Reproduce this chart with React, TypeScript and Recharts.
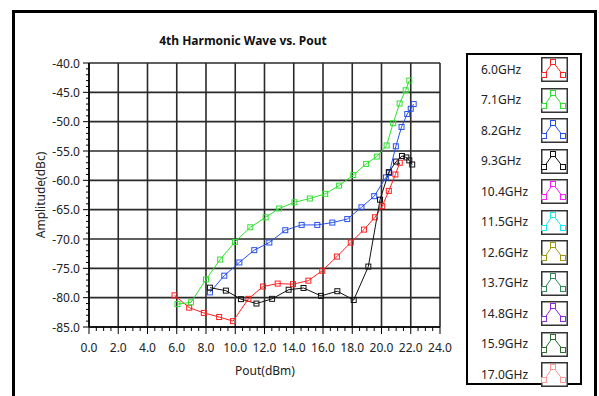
import { LineChart, Line, XAxis, YAxis, ReferenceLine } from "recharts"

const FONT = "'Noto Sans', 'Open Sans', sans-serif"

// Pout (dBm), amplitude (dBc)
const s6_0GHz = [
  [5.85, -79.6], [6.85, -81.7], [7.85, -82.6], [8.9, -83.3], [9.85, -84.0],
  [10.9, -80.2], [11.9, -78.1], [12.9, -77.6], [13.95, -77.7], [15.0, -77.1],
  [15.95, -75.4], [16.95, -73.0], [17.9, -70.6], [18.8, -68.4], [19.55, -66.3],
  [20.05, -64.4], [20.5, -61.8], [20.95, -59.0], [21.25, -57.0],
]
const s7_1GHz = [
  [6.05, -81.1], [6.97, -80.8], [8.0, -76.9], [8.97, -73.5], [9.98, -70.5],
  [11.03, -68.0], [12.08, -66.3], [13.0, -64.8], [14.05, -63.75], [15.1, -63.1],
  [16.15, -62.3], [17.1, -60.9], [18.07, -59.1], [18.95, -57.2], [19.68, -55.95],
  [20.35, -54.05], [20.8, -50.25], [21.24, -46.9], [21.65, -44.65], [21.9, -43.0],
]
const s8_2GHz = [
  [8.27, -79.1], [9.25, -76.25], [10.28, -74.0], [11.3, -71.9], [12.33, -70.6],
  [13.42, -68.5], [14.54, -67.6], [15.61, -67.6], [16.64, -67.2], [17.66, -66.6],
  [18.63, -64.6], [19.5, -62.7], [20.3, -59.5], [20.53, -58.75], [20.98, -54.2],
  [21.37, -50.9], [21.76, -48.7], [22.0, -47.8], [22.2, -47.0],
]
const s9_3GHz = [
  [8.27, -78.3], [9.36, -78.8], [10.39, -80.25], [11.45, -81.0], [12.52, -80.2],
  [13.65, -78.65], [14.67, -78.35], [15.86, -79.7], [16.98, -78.9], [18.1, -80.4],
  [19.1, -74.7], [19.9, -63.3], [20.5, -58.6], [21.0, -56.8], [21.4, -55.85],
  [21.7, -56.1], [21.9, -56.6], [22.1, -57.3],
]

const plotted = [
  { name: "6.0GHz", color: "#ff2020", pts: s6_0GHz },
  { name: "7.1GHz", color: "#30e030", pts: s7_1GHz },
  { name: "8.2GHz", color: "#2850f0", pts: s8_2GHz },
  { name: "9.3GHz", color: "#111111", pts: s9_3GHz },
]

const legendNames = [
  "6.0GHz", "7.1GHz", "8.2GHz", "9.3GHz", "10.4GHz", "11.5GHz",
  "12.6GHz", "13.7GHz", "14.8GHz", "15.9GHz", "17.0GHz",
]
const legendColors = [
  "#ff2020", "#30e030", "#2850f0", "#111111", "#ff20ff", "#20e8f0",
  "#9a9a10", "#2e8b57", "#8a2be2", "#2f6a2f", "#ff9a9a",
]

const xMajor = [0, 2, 4, 6, 8, 10, 12, 14, 16, 18, 20, 22, 24]
const yMajor = [-85, -80, -75, -70, -65, -60, -55, -50, -45, -40]
const xTicks = Array.from({ length: 49 }, (_, i) => i * 0.5)
const yTicks = Array.from({ length: 46 }, (_, i) => -85 + i)

const isMultiple = (v: number, m: number) => Math.abs(v / m - Math.round(v / m)) < 1e-6

function XTick(props: any) {
  const { x, y, payload } = props
  const v = payload.value
  const major = isMultiple(v, 2)
  return (
    <g>
      <line x1={x} y1={y} x2={x} y2={y + (major ? 7 : 4)} stroke="#000" />
      {major && (
        <text x={x} y={y + 20} textAnchor="middle" dominantBaseline="central"
          fontFamily={FONT} fontSize={12} fill="#222">
          {v.toFixed(1)}
        </text>
      )}
    </g>
  )
}

function YTick(props: any) {
  const { x, y, payload } = props
  const v = payload.value
  const major = isMultiple(v, 5)
  return (
    <g>
      <line x1={x} y1={y} x2={x - (major ? 6 : 3)} y2={y} stroke="#000" />
      {major && (
        <text x={x - 9} y={y} textAnchor="end" dominantBaseline="central"
          fontFamily={FONT} fontSize={12} fill="#222">
          {v.toFixed(1)}
        </text>
      )}
    </g>
  )
}

function LegendIcon({ color }: { color: string }) {
  const pts = [[3, 18], [12, 5], [22, 18]]
  return (
    <svg width={27} height={25} style={{ display: "block" }}>
      <rect x={0.75} y={0.75} width={25.5} height={23.5} fill="#fff" stroke="#333" strokeWidth={1.5} />
      <polyline points={pts.map((p) => p.join(",")).join(" ")} fill="none" stroke={color} />
      {pts.map((p, i) => (
        <rect key={i} x={p[0] - 2.5} y={p[1] - 2.5} width={5} height={5} fill="#fff" stroke={color} />
      ))}
    </svg>
  )
}

export default function App() {
  return (
    <div style={{ position: "absolute", left: 0, top: 0, width: 599, height: 396, overflow: "hidden", background: "#fff" }}>
      <LineChart width={599} height={396} margin={{ top: 63, right: 159, bottom: 0, left: 0 }}>
        <XAxis dataKey="x" type="number" domain={[0, 24]} ticks={xTicks} interval={0}
          height={69} tickSize={0} tickMargin={0} tickLine={false} tick={<XTick />}
          axisLine={{ stroke: "#000", strokeWidth: 1.5 }} allowDataOverflow />
        <YAxis dataKey="y" type="number" domain={[-85, -40]} ticks={yTicks} interval={0}
          width={89} tickSize={0} tickMargin={0} tickLine={false} tick={<YTick />}
          axisLine={{ stroke: "#000", strokeWidth: 1.5 }} allowDataOverflow />
        {xMajor.map((v) => (
          <ReferenceLine key={"vx" + v} x={v} stroke="#2a2a2a" strokeWidth={1.6} />
        ))}
        {yMajor.map((v) => (
          <ReferenceLine key={"hy" + v} y={v} stroke="#2a2a2a" strokeWidth={1.6} />
        ))}
        {plotted.map((s) => (
          <Line
            key={s.name}
            name={s.name}
            data={s.pts.map(([x, y]) => ({ x, y }))}
            dataKey="y"
            stroke={s.color}
            strokeWidth={1}
            isAnimationActive={false}
            dot={(p: any) => (
              <rect key={s.name + p.index} x={p.cx - 2.5} y={p.cy - 2.5} width={5} height={5}
                fill="none" stroke={s.color} strokeWidth={1} />
            )}
            activeDot={false}
          />
        ))}
      </LineChart>

      <svg width={599} height={396} style={{ position: "absolute", left: 0, top: 0, pointerEvents: "none" }}>
        <rect x={13.5} y={11.5} width={582} height={500} fill="none" stroke="#000" strokeWidth={3} />
        <text x={243} y={40} textAnchor="middle" dominantBaseline="central"
          fontFamily={FONT} fontSize={12} fontWeight="bold" fill="#111">
          4th Harmonic Wave vs. Pout
        </text>
        <text x={265} y={370} textAnchor="middle" dominantBaseline="central"
          fontFamily={FONT} fontSize={12} fill="#222">
          Pout(dBm)
        </text>
        <text x={40} y={195} textAnchor="middle" dominantBaseline="central"
          transform="rotate(-90 40 195)" fontFamily={FONT} fontSize={12} fill="#222">
          Amplitude(dBc)
        </text>
      </svg>

      <div style={{ position: "absolute", left: 466, top: 53, width: 116, height: 332, border: "2px solid #000", boxSizing: "border-box", background: "#fff" }}>
        {legendNames.map((n, i) => {
          const cy = 67.7 + 30.5 * i - 53
          return (
            <div key={n}>
              <div style={{ position: "absolute", left: 13, top: cy - 9, height: 18, lineHeight: "18px", fontFamily: FONT, fontSize: 12, color: "#222" }}>
                {n}
              </div>
              <div style={{ position: "absolute", left: 73, top: cy - 12.5 }}>
                <LegendIcon color={legendColors[i]} />
              </div>
            </div>
          )
        })}
      </div>
    </div>
  )
}
